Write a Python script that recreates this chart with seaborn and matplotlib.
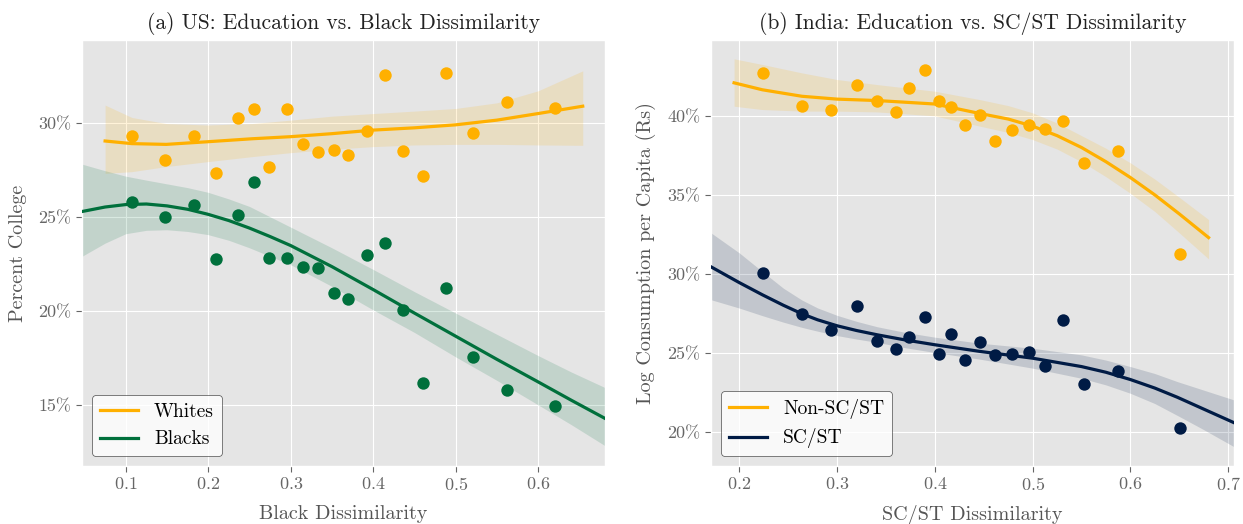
import matplotlib
matplotlib.use("Agg")
import matplotlib.pyplot as plt
import numpy as np
import pandas as pd
import seaborn as sns
from matplotlib.ticker import PercentFormatter

# ---- US: share with college degree vs. Black dissimilarity index ----
us_dissim = [0.108, 0.148, 0.183, 0.209, 0.236, 0.256, 0.274, 0.296, 0.315, 0.333,
             0.352, 0.370, 0.392, 0.414, 0.436, 0.460, 0.488, 0.521, 0.562, 0.620]
us_whites = [29.29, 28.00, 29.29, 27.33, 30.25, 30.72, 27.67, 30.71, 28.89, 28.43,
             28.55, 28.27, 29.56, 32.54, 28.50, 27.19, 32.65, 29.43, 31.13, 30.78]
us_blacks = [25.78, 25.00, 25.64, 22.74, 25.12, 26.84, 22.83, 22.83, 22.35, 22.26,
             20.97, 20.64, 22.97, 23.59, 20.05, 16.17, 21.20, 17.56, 15.77, 14.96]

# fitted curves (cubic fit on the underlying data) with 95% bands
us_fit_w_x = [0.075, 0.1075, 0.149, 0.199, 0.2535, 0.30, 0.35, 0.40, 0.45, 0.50, 0.55, 0.60, 0.654]
us_fit_w = [29.03, 28.89, 28.85, 28.99, 29.15, 29.26, 29.42, 29.61, 29.73, 29.89, 30.14, 30.49, 30.88]
us_fit_w_hi = [30.94, 30.28, 29.96, 29.88, 29.96, 30.14, 30.35, 30.49, 30.62, 30.76, 31.06, 31.70, 32.76]
us_fit_w_lo = [27.31, 27.40, 27.67, 27.93, 28.20, 28.41, 28.59, 28.73, 28.82, 28.85, 28.85, 28.82, 28.80]

us_fit_b_x = [0.047, 0.075, 0.10, 0.125, 0.15, 0.175, 0.20, 0.225, 0.25, 0.275,
              0.30, 0.35, 0.40, 0.45, 0.50, 0.55, 0.60, 0.64, 0.681]
us_fit_b = [25.28, 25.52, 25.65, 25.68, 25.58, 25.40, 25.13, 24.80, 24.40, 23.95,
            23.47, 22.35, 21.13, 19.88, 18.65, 17.42, 16.22, 15.25, 14.28]
us_fit_b_hi = [27.80, 27.45, 27.16, 26.95, 26.75, 26.55, 26.30, 25.95, 25.55, 25.00,
               24.45, 23.35, 22.20, 21.02, 19.88, 18.75, 17.62, 16.75, 15.92]
us_fit_b_lo = [22.90, 23.60, 24.10, 24.28, 24.31, 24.22, 24.05, 23.75, 23.35, 22.90,
               22.45, 21.30, 20.05, 18.85, 17.55, 16.30, 15.00, 13.95, 12.83]

# ---- India: consumption vs. SC/ST dissimilarity index ----
in_dissim = [0.224, 0.264, 0.294, 0.320, 0.341, 0.360, 0.374, 0.390, 0.404, 0.416,
             0.431, 0.446, 0.462, 0.479, 0.496, 0.513, 0.531, 0.553, 0.587, 0.651]
in_non_scst = [42.72, 40.65, 40.36, 41.98, 40.91, 40.25, 41.79, 42.93, 40.97, 40.57,
               39.41, 40.08, 38.44, 39.11, 39.41, 39.20, 39.66, 37.00, 37.76, 31.29]
in_scst = [30.04, 27.46, 26.43, 27.97, 25.77, 25.25, 26.00, 27.27, 24.92, 26.18,
           24.58, 25.70, 24.89, 24.92, 25.06, 24.15, 27.08, 23.02, 23.87, 20.25]

in_fit_n_x = [0.1946, 0.2236, 0.264, 0.30, 0.341, 0.40, 0.446, 0.475, 0.50, 0.525,
              0.55, 0.575, 0.60, 0.625, 0.65, 0.68]
in_fit_n = [42.09, 41.65, 41.24, 41.06, 40.97, 40.75, 40.15, 39.80, 39.35, 38.75,
            38.00, 37.10, 36.10, 35.00, 33.80, 32.30]
in_fit_n_hi = [43.61, 43.25, 42.72, 42.30, 41.98, 41.56, 41.03, 40.65, 40.19, 39.55,
               38.75, 37.95, 37.03, 36.00, 34.85, 33.44]
in_fit_n_lo = [40.61, 40.40, 40.30, 40.30, 40.25, 40.00, 39.35, 38.95, 38.50, 37.90,
               37.10, 36.15, 35.10, 33.95, 32.60, 30.95]

in_fit_s_x = [0.171, 0.20, 0.2236, 0.245, 0.264, 0.28, 0.30, 0.32, 0.341, 0.37,
              0.40, 0.446, 0.50, 0.55, 0.575, 0.60, 0.625, 0.648, 0.675, 0.706]
in_fit_s = [30.45, 29.45, 28.68, 28.02, 27.48, 27.10, 26.72, 26.42, 26.15, 25.82,
            25.52, 25.10, 24.67, 24.14, 23.78, 23.32, 22.78, 22.20, 21.45, 20.59]
in_fit_s_hi = [32.60, 31.33, 30.15, 29.10, 28.35, 27.85, 27.38, 27.00, 26.66, 26.30,
               26.00, 25.62, 25.30, 24.88, 24.55, 24.14, 23.70, 23.19, 22.65, 22.03]
in_fit_s_lo = [28.37, 27.84, 27.36, 26.95, 26.62, 26.38, 26.10, 25.88, 25.67, 25.33,
               25.03, 24.61, 24.04, 23.40, 22.98, 22.45, 21.80, 21.05, 20.15, 19.07]

ORANGE = "#FFB000"
GREEN = "#00703C"
NAVY = "#001B45"

plt.style.use("ggplot")
plt.rcParams["font.family"] = ["cmr10", "DejaVu Serif"]
plt.rcParams["mathtext.fontset"] = "cm"
plt.rcParams["axes.formatter.use_mathtext"] = True
plt.rcParams["axes.unicode_minus"] = False

fig = plt.figure(figsize=(12.43, 5.24), dpi=100)
W, H = 1243, 524
ax1 = fig.add_axes([82 / W, 58 / H, 523 / W, 426 / H])
ax2 = fig.add_axes([711 / W, 58 / H, 523 / W, 426 / H])


def group(ax, x, y, fx, fy, lo, hi, color, label):
    sns.scatterplot(x=x, y=y, ax=ax, color=color, s=80, linewidth=0, zorder=3)
    ax.fill_between(fx, lo, hi, color=color, alpha=0.15, linewidth=0, zorder=2)
    sns.lineplot(x=fx, y=fy, ax=ax, color=color, lw=2.3, label=label, zorder=4)


group(ax1, us_dissim, us_whites, us_fit_w_x, us_fit_w, us_fit_w_lo, us_fit_w_hi, ORANGE, "Whites")
group(ax1, us_dissim, us_blacks, us_fit_b_x, us_fit_b, us_fit_b_lo, us_fit_b_hi, GREEN, "Blacks")
ax1.set_xlim(0.047, 0.681)
ax1.set_ylim(11.75, 34.4)

group(ax2, in_dissim, in_non_scst, in_fit_n_x, in_fit_n, in_fit_n_lo, in_fit_n_hi, ORANGE, "Non-SC/ST")
group(ax2, in_dissim, in_scst, in_fit_s_x, in_fit_s, in_fit_s_lo, in_fit_s_hi, NAVY, "SC/ST")
ax2.set_xlim(0.171, 0.706)
ax2.set_ylim(17.85, 44.8)

ax1.set_xticks([0.1, 0.2, 0.3, 0.4, 0.5, 0.6])
ax1.set_yticks([15, 20, 25, 30])
ax2.set_xticks([0.2, 0.3, 0.4, 0.5, 0.6, 0.7])
ax2.set_yticks([20, 25, 30, 35, 40])

for ax in (ax1, ax2):
    ax.yaxis.set_major_formatter(PercentFormatter(xmax=100, decimals=0))
    ax.tick_params(labelsize=13, colors="#666666", length=4)
    ax.legend(loc="lower left", fontsize=14, frameon=True, fancybox=True,
              edgecolor="#222222", facecolor="white", framealpha=0.8)

ax1.set_title("(a) US: Education vs. Black Dissimilarity", fontsize=15.5, color="#222222", pad=8)
ax2.set_title("(b) India: Education vs. SC/ST Dissimilarity", fontsize=15.5, color="#222222", pad=8)
ax1.set_xlabel("Black Dissimilarity", fontsize=14.5, color="#555555", labelpad=8)
ax1.set_ylabel("Percent College", fontsize=14.5, color="#555555", labelpad=8)
ax2.set_xlabel("SC/ST Dissimilarity", fontsize=14.5, color="#555555", labelpad=8)
ax2.set_ylabel("Log Consumption per Capita (Rs)", fontsize=14.5, color="#555555", labelpad=8)

fig.savefig("out.png", dpi=100)
